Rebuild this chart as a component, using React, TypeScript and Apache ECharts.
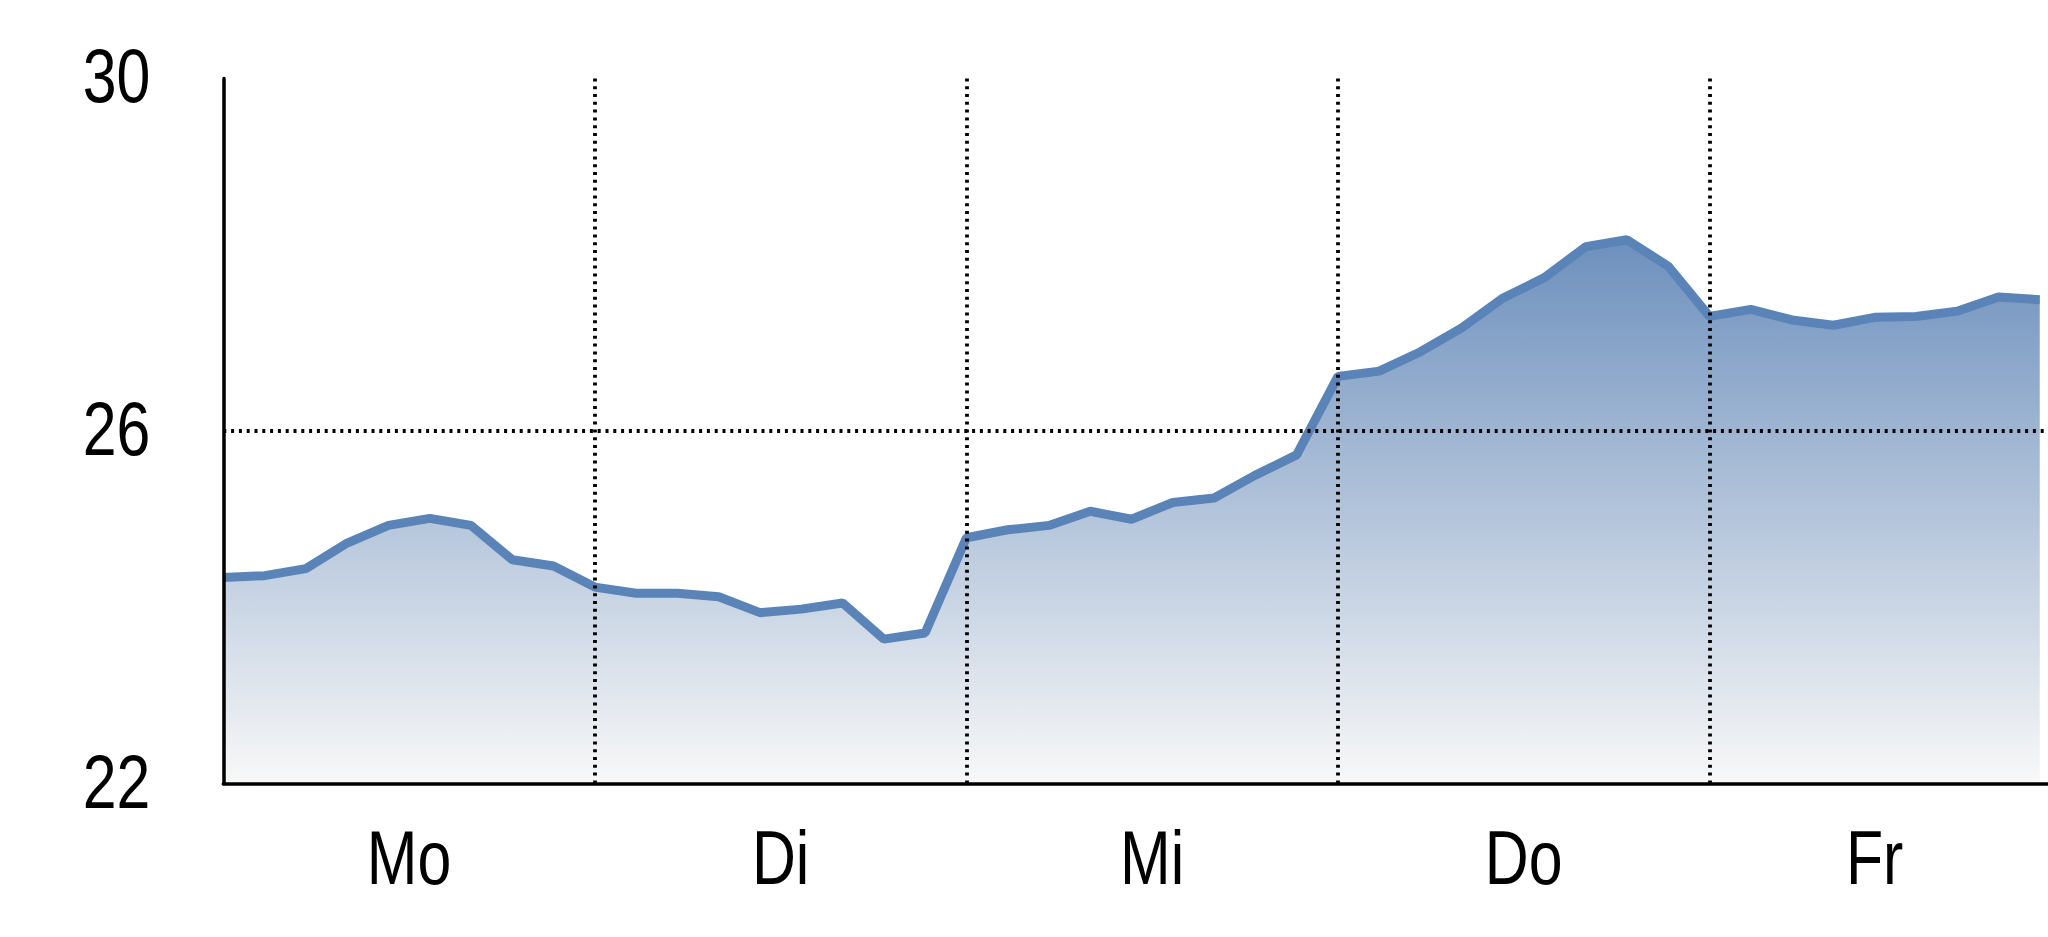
import React, { useEffect, useRef } from 'react';
import * as echarts from 'echarts';

const days = ['Mo', 'Di', 'Mi', 'Do', 'Fr'];
const pointsPerDay = 9;
const values = [
  24.34, 24.36, 24.44, 24.73, 24.93, 25.01, 24.93, 24.54, 24.47,
  24.23, 24.16, 24.16, 24.12, 23.94, 23.98, 24.05, 23.64, 23.71,
  24.79, 24.88, 24.93, 25.09, 25.0, 25.19, 25.24, 25.5, 25.73,
  26.62, 26.68, 26.9, 27.17, 27.51, 27.74, 28.09, 28.17, 27.87,
  27.3, 27.38, 27.26, 27.2, 27.29, 27.3, 27.36, 27.52, 27.49,
];
const yTicks = [22, 26, 30];

const FONT = "'Liberation Sans Narrow', 'Arial Narrow', 'Liberation Sans', Arial, sans-serif";
const FONT_SIZE = 76;
const NARROW = 0.8;

export default function App() {
  const ref = useRef<HTMLDivElement>(null);

  useEffect(() => {
    if (!ref.current) return;
    const chart = echarts.init(ref.current, undefined, { renderer: 'svg' });
    const lastIndex = values.length - 1;
    const xMax = lastIndex + 0.2;
    const labelCenters = days.map((_, d) => {
      const start = d * pointsPerDay;
      const end = Math.min((d + 1) * pointsPerDay, lastIndex);
      return (start + end) / 2;
    });
    const dotted = { color: '#000', width: 3.8, type: [3, 4.8] as number[] };

    chart.setOption({
      animation: false,
      backgroundColor: '#fff',
      grid: { left: 223.3, right: 0, top: 78.4, bottom: 153.3 },
      xAxis: {
        type: 'value',
        min: 0,
        max: xMax,
        interval: pointsPerDay,
        z: 3,
        axisLine: { show: true, onZero: false, lineStyle: { color: '#000', width: 3.5 } },
        axisTick: { show: false },
        axisLabel: { show: false },
        splitLine: { show: true, showMinLine: false, showMaxLine: false, lineStyle: dotted },
      },
      yAxis: {
        type: 'value',
        min: yTicks[0],
        max: yTicks[yTicks.length - 1],
        interval: yTicks[1] - yTicks[0],
        z: 3,
        axisLine: { show: true, onZero: false, lineStyle: { color: '#000', width: 3.5 } },
        axisTick: { show: false },
        axisLabel: { show: false },
        splitLine: { show: true, showMinLine: false, showMaxLine: false, lineStyle: dotted },
      },
      series: [
        {
          type: 'line',
          data: values.map((v, i) => [i, v]),
          showSymbol: false,
          symbol: 'none',
          lineStyle: { color: '#5a83b8', width: 9 },
          areaStyle: {
            origin: 'start',
            opacity: 1,
            color: new echarts.graphic.LinearGradient(0, 0, 0, 1, [
              { offset: 0, color: '#6d90bd' },
              { offset: 1, color: '#f8f8f8' },
            ]),
          },
          z: 2,
        },
      ],
    });

    // Axis labels drawn as condensed text, placed through the chart's own scales
    const origin = chart.convertToPixel({ gridIndex: 0 }, [0, yTicks[0]]);
    const axisX = origin[0];
    const axisY = origin[1];
    const textStyle = { fill: '#000', fontSize: FONT_SIZE, fontFamily: FONT };
    const yLabels = yTicks.map((t) => {
      const py = chart.convertToPixel({ gridIndex: 0 }, [0, t])[1];
      return {
        type: 'text',
        x: axisX - 73,
        y: py - 2,
        scaleX: NARROW,
        z: 10,
        style: { ...textStyle, text: String(t), align: 'right', verticalAlign: 'middle' },
      };
    });
    const xLabels = days.map((d, i) => {
      const px = chart.convertToPixel({ gridIndex: 0 }, [labelCenters[i], yTicks[0]])[0];
      return {
        type: 'text',
        x: px,
        y: axisY + 36,
        scaleX: NARROW,
        z: 10,
        style: { ...textStyle, text: d, align: 'center', verticalAlign: 'top' },
      };
    });
    chart.setOption({ graphic: [...yLabels, ...xLabels] });

    return () => chart.dispose();
  }, []);

  return (
    <div
      ref={ref}
      style={{ position: 'absolute', left: 0, top: 0, width: 2048, height: 937, background: '#fff' }}
    />
  );
}
